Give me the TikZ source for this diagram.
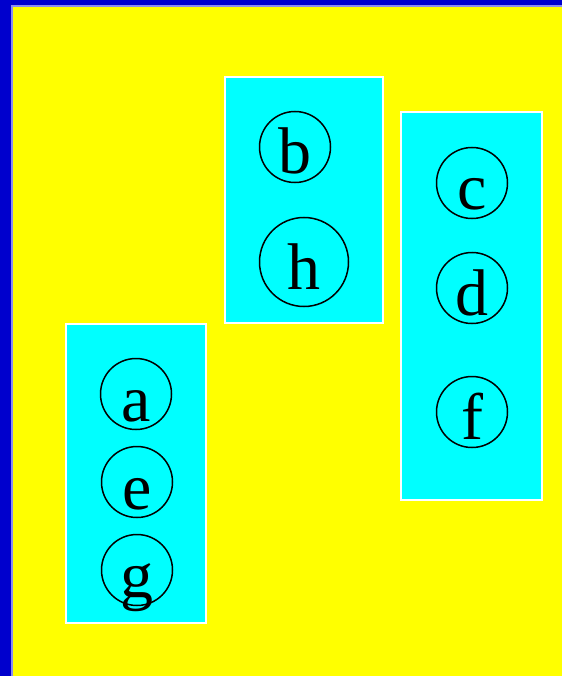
\documentclass[tikz,border=0pt]{standalone}
\usepackage{fontspec}
\setmainfont{Liberation Serif}
\usetikzlibrary{positioning}
\definecolor{bgblue}{RGB}{0,0,205}
\definecolor{bgyellow}{RGB}{255,255,0}
\definecolor{boxcyan}{RGB}{0,255,255}
\definecolor{edgeblue}{RGB}{140,140,240}

\begin{document}
\begin{tikzpicture}[
    x=1pt, y=-1pt,
    cluster/.style={draw=white, line width=1.5pt, fill=boxcyan, inner sep=0pt},
    vertex/.style={draw, circle, line width=1.5pt, inner sep=0pt, text height=54pt, text depth=0pt,
        font=\fontsize{66}{70}\selectfont},
    small/.style={vertex, minimum size=71pt},
    big/.style={vertex, minimum size=89pt}
]
    % Background
    \useasboundingbox (0,0) rectangle (562,676);
    \fill[bgblue] (0,0) rectangle (562,676);
    \fill[bgyellow] (12,6) rectangle (562,676);
    \draw[edgeblue, line width=1.2pt] (12,676) -- (12,6) -- (562,6);

    % Clusters
    \node[cluster, minimum width=140pt, minimum height=299pt] (left) at (136,473.5) {};
    \node[cluster, minimum width=158pt, minimum height=246pt] (mid) at (304,200) {};
    \node[cluster, minimum width=141pt, minimum height=388pt] (right) at (471.5,306) {};

    % Left cluster
    \node[small] (a) at (136,394) {a};
    \node[small] (e) at (137,482) {e};
    \node[small] (g) at (137,570) {g};

    % Middle cluster
    \node[small] (b) at (295,147) {b};
    \node[big] (h) at (304,262) {h};

    % Right cluster
    \node[small] (c) at (472,183) {c};
    \node[small] (d) at (472,288) {d};
    \node[small] (f) at (472,412) {f};
\end{tikzpicture}
\end{document}
